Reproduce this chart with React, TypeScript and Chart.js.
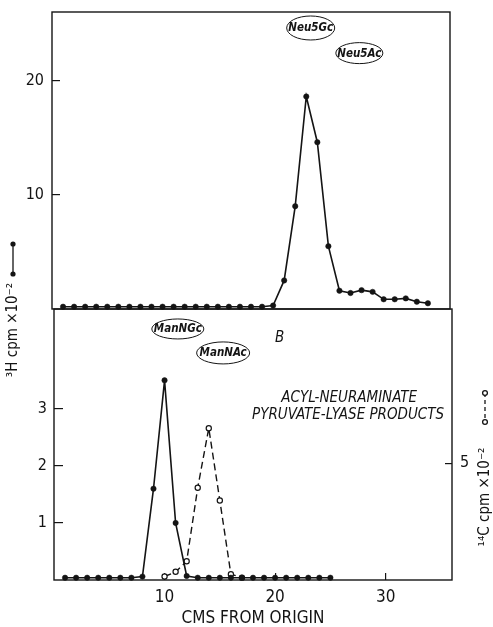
import React, { useEffect, useRef } from 'react';
import { Chart, registerables } from 'chart.js';

Chart.register(...registerables);

const FONT = '"DejaVu Sans Condensed", "Liberation Sans Narrow", "DejaVu Sans", sans-serif';

// ---- Data ----
// Top panel: 3H cpm x10^-2 vs cms from origin
const topPositions = [1, 2, 3, 4, 5, 6, 7, 8, 9, 10, 11, 12, 13, 14, 15, 16, 17, 18, 19, 20, 21, 22, 23, 24, 25, 26, 27, 28, 29, 30, 31, 32, 33, 34];
const topTritium = [0.2, 0.2, 0.2, 0.2, 0.2, 0.2, 0.2, 0.2, 0.2, 0.2, 0.2, 0.2, 0.2, 0.2, 0.2, 0.2, 0.2, 0.2, 0.2, 0.3, 2.5, 9.0, 18.6, 14.6, 5.5, 1.6, 1.4, 1.65, 1.5, 0.85, 0.85, 0.93, 0.64, 0.5];

// Bottom panel (B): acyl-neuraminate pyruvate-lyase products
const bottomPositions = [1, 2, 3, 4, 5, 6, 7, 8, 9, 10, 11, 12, 13, 14, 15, 16, 17, 18, 19, 20, 21, 22, 23, 24, 25];
const bottomTritium = [0.04, 0.04, 0.04, 0.04, 0.04, 0.04, 0.04, 0.06, 1.6, 3.5, 1.0, 0.07, 0.04, 0.04, 0.04, 0.04, 0.04, 0.04, 0.04, 0.04, 0.04, 0.04, 0.04, 0.04, 0.04];
const carbonPositions = [10, 11, 12, 13, 14, 15, 16, 17];
const bottomCarbon = [0.15, 0.35, 0.8, 3.95, 6.5, 3.4, 0.25, 0.1];

// Tick labels
const xTickValues = [10, 20, 30];
const topYTickValues = [10, 20];
const bottomYTickValues = [1, 2, 3];
const bottomY2TickValues = [5];

const xTitle = 'CMS FROM ORIGIN';
const leftTitle = '³H cpm ×10⁻²';
const rightTitle = '¹⁴C cpm ×10⁻²';
const topLabels = ['Neu5Gc', 'Neu5Ac'];
const bottomLabels = ['ManNGc', 'ManNAc'];
const panelLetter = 'B';
const panelCaption = ['ACYL-NEURAMINATE', 'PYRUVATE-LYASE PRODUCTS'];

const INK = '#141414';

const toPoints = (xs: number[], ys: number[]) => xs.map((x, i) => ({ x, y: ys[i] }));

const frame = {
  id: 'frame',
  beforeDatasetsDraw(chart: any) {
    const { ctx, chartArea: a } = chart;
    ctx.save();
    ctx.strokeStyle = INK;
    ctx.lineWidth = 1.4;
    ctx.strokeRect(a.left, a.top, a.right - a.left, a.bottom - a.top);
    ctx.restore();
  },
};

function ellipseLabel(ctx: CanvasRenderingContext2D, cx: number, cy: number, rx: number, ry: number, text: string) {
  ctx.save();
  ctx.strokeStyle = INK;
  ctx.lineWidth = 1;
  ctx.beginPath();
  ctx.ellipse(cx, cy, rx, ry, 0, 0, Math.PI * 2);
  ctx.stroke();
  ctx.fillStyle = INK;
  ctx.font = `italic bold 11.5px ${FONT}`;
  ctx.textAlign = 'center';
  ctx.textBaseline = 'middle';
  ctx.fillText(text, cx, cy + 0.5);
  ctx.restore();
}

const topNotes = {
  id: 'topNotes',
  afterDraw(chart: any) {
    const { ctx, scales } = chart;
    const x = scales.x, y = scales.y;
    ellipseLabel(ctx, x.getPixelForValue(23.4), y.getPixelForValue(24.6), 24, 12, topLabels[0]);
    ellipseLabel(ctx, x.getPixelForValue(27.8), y.getPixelForValue(22.4), 23.5, 10.5, topLabels[1]);
  },
};

const bottomNotes = {
  id: 'bottomNotes',
  afterDraw(chart: any) {
    const { ctx, scales } = chart;
    const x = scales.x, y = scales.y;
    ellipseLabel(ctx, x.getPixelForValue(11.2), y.getPixelForValue(4.4), 26, 10, bottomLabels[0]);
    ellipseLabel(ctx, x.getPixelForValue(15.3), y.getPixelForValue(3.98), 26.5, 11, bottomLabels[1]);
    ctx.save();
    ctx.fillStyle = INK;
    ctx.textAlign = 'center';
    ctx.textBaseline = 'middle';
    ctx.font = `italic 15px ${FONT}`;
    ctx.fillText(panelLetter, x.getPixelForValue(20.4), y.getPixelForValue(4.24));
    ctx.fillText(panelCaption[0], x.getPixelForValue(26.7), y.getPixelForValue(3.18));
    ctx.fillText(panelCaption[1], x.getPixelForValue(26.6), y.getPixelForValue(2.89));

    // Left axis title + symbol
    ctx.font = `15px ${FONT}`;
    ctx.save();
    ctx.translate(13, 330);
    ctx.rotate(-Math.PI / 2);
    ctx.fillText(leftTitle, 0, 0);
    ctx.restore();
    ctx.strokeStyle = INK;
    ctx.lineWidth = 1.3;
    ctx.beginPath();
    ctx.moveTo(13, 244);
    ctx.lineTo(13, 274);
    ctx.stroke();
    [244, 274].forEach((py) => {
      ctx.beginPath();
      ctx.arc(13, py, 2.6, 0, Math.PI * 2);
      ctx.fill();
    });

    // Right axis title + symbol
    ctx.save();
    ctx.translate(485, 497);
    ctx.rotate(-Math.PI / 2);
    ctx.fillText(rightTitle, 0, 0);
    ctx.restore();
    ctx.setLineDash([4, 3]);
    ctx.beginPath();
    ctx.moveTo(485, 393);
    ctx.lineTo(485, 422);
    ctx.stroke();
    ctx.setLineDash([]);
    ctx.fillStyle = '#fff';
    [393, 422].forEach((py) => {
      ctx.beginPath();
      ctx.arc(485, py, 2.4, 0, Math.PI * 2);
      ctx.fill();
      ctx.stroke();
    });
    ctx.restore();
  },
};

const solidStyle = {
  borderColor: INK,
  borderWidth: 1.6,
  pointRadius: 2.7,
  pointBackgroundColor: INK,
  pointBorderColor: INK,
  pointBorderWidth: 0.5,
  tension: 0,
  clip: false as const,
};

const insideTicks = (len: number) => ({
  display: true,
  drawOnChartArea: false,
  drawTicks: true,
  tickLength: -len,
  color: INK,
  lineWidth: 1.2,
});

const fixWidth = (w: number) => (s: any) => {
  s.width = w;
  s.paddingTop = 0;
  s.paddingBottom = 0;
};

export default function App() {
  const topRef = useRef<HTMLCanvasElement>(null);
  const botRef = useRef<HTMLCanvasElement>(null);

  useEffect(() => {
    Chart.defaults.font.family = FONT;
    Chart.defaults.color = INK;

    const top = new Chart(topRef.current!, {
      type: 'line',
      data: {
        datasets: [
          { data: toPoints(topPositions, topTritium), ...solidStyle },
        ],
      },
      options: {
        animation: false,
        responsive: false,
        layout: { padding: { top: 12, left: 0, right: 43, bottom: 318 } },
        plugins: { legend: { display: false }, tooltip: { enabled: false } },
        scales: {
          x: { type: 'linear', min: 0, max: 36, display: false },
          y: {
            type: 'linear',
            min: 0,
            max: 26,
            afterBuildTicks: (s: any) => { s.ticks = topYTickValues.map((v) => ({ value: v })); },
            afterFit: fixWidth(52),
            grid: insideTicks(8),
            border: { display: false },
            ticks: { padding: 16, font: { size: 16 }, color: INK },
          },
        },
      },
      plugins: [frame, topNotes],
    });

    const bottom = new Chart(botRef.current!, {
      type: 'line',
      data: {
        datasets: [
          { data: toPoints(bottomPositions, bottomTritium), yAxisID: 'y', ...solidStyle },
          {
            data: toPoints(carbonPositions, bottomCarbon),
            yAxisID: 'y2',
            borderColor: INK,
            borderWidth: 1.4,
            borderDash: [7, 4],
            pointRadius: 2.6,
            pointBackgroundColor: '#fff',
            pointBorderColor: INK,
            pointBorderWidth: 1.2,
            tension: 0,
            clip: false as const,
          },
        ],
      },
      options: {
        animation: false,
        responsive: false,
        layout: { padding: { top: 309, left: 0, right: 0, bottom: 0 } },
        plugins: { legend: { display: false }, tooltip: { enabled: false } },
        scales: {
          x: {
            type: 'linear',
            min: 0,
            max: 36,
            afterBuildTicks: (s: any) => { s.ticks = xTickValues.map((v) => ({ value: v })); },
            afterFit: (s: any) => { s.height = 47; s.paddingLeft = 0; s.paddingRight = 0; },
            grid: insideTicks(7),
            border: { display: false },
            ticks: { padding: 14, font: { size: 17 }, color: INK, maxRotation: 0 },
            title: { display: true, text: xTitle, font: { size: 17 }, color: INK, padding: { top: 0, bottom: -2 } },
          },
          y: {
            type: 'linear',
            position: 'left',
            min: 0,
            max: 4.75,
            afterBuildTicks: (s: any) => { s.ticks = bottomYTickValues.map((v) => ({ value: v })); },
            afterFit: fixWidth(54),
            grid: insideTicks(9),
            border: { display: false },
            ticks: { padding: 16, font: { size: 16 }, color: INK },
          },
          y2: {
            type: 'linear',
            position: 'right',
            min: 0,
            max: 11.6,
            afterBuildTicks: (s: any) => { s.ticks = bottomY2TickValues.map((v) => ({ value: v })); },
            afterFit: fixWidth(41),
            grid: insideTicks(7),
            border: { display: false },
            ticks: { padding: 15, font: { size: 16 }, color: INK },
          },
        },
      },
      plugins: [frame, bottomNotes],
    });

    return () => {
      top.destroy();
      bottom.destroy();
    };
  }, []);

  return (
    <div style={{ position: 'absolute', left: 0, top: 0, width: 493, height: 627, background: '#fff' }}>
      <canvas ref={topRef} width={493} height={627} style={{ position: 'absolute', left: 0, top: 0 }} />
      <canvas ref={botRef} width={493} height={627} style={{ position: 'absolute', left: 0, top: 0 }} />
    </div>
  );
}
